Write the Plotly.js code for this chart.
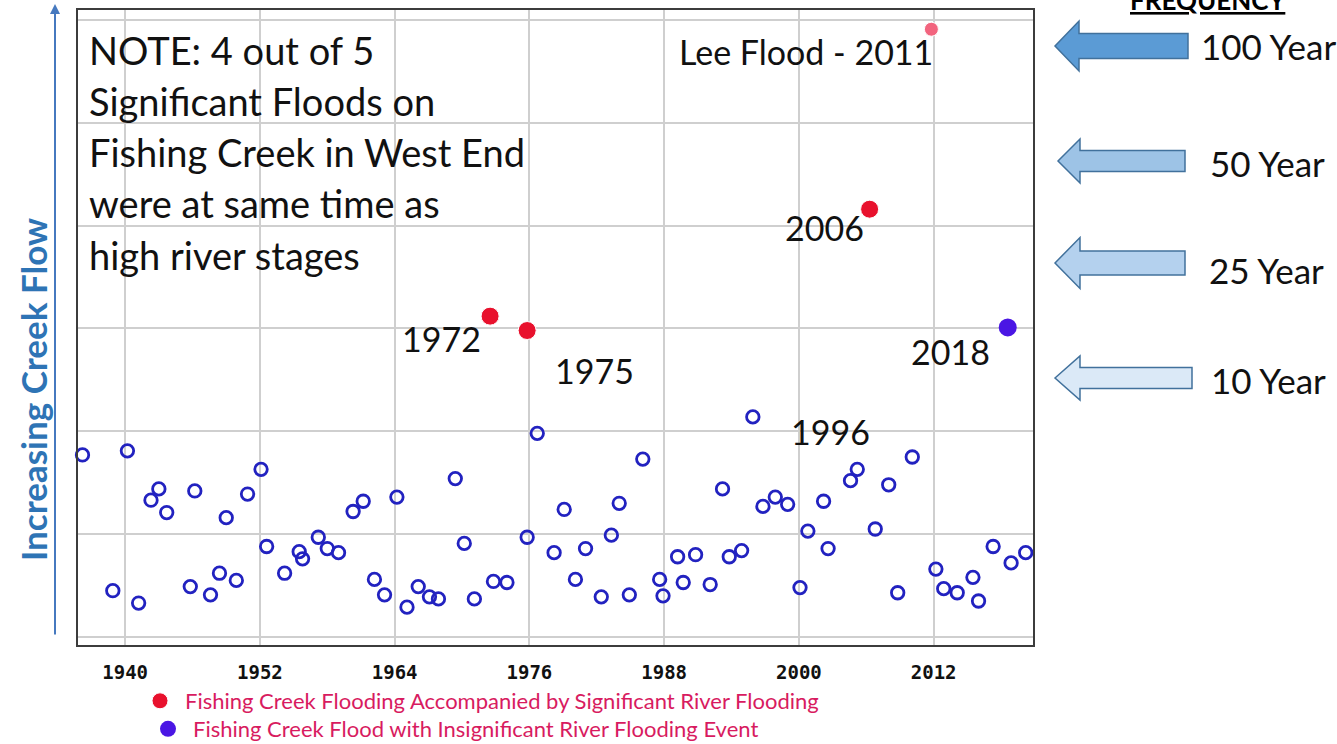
<!DOCTYPE html>
<html>
<head>
<meta charset="utf-8">
<script src="https://cdn.plot.ly/plotly-3.0.1.min.js"></script>
<style>
  html, body { margin: 0; padding: 0; background: #ffffff; }
  #chart { width: 1337px; height: 744px; }
</style>
</head>
<body>
<div id="chart"></div>
<script>
// ---- Data ----
// Annual peak flows (relative creek flow units), hollow circles
const peakYear = [1936.2, 1938.9, 1940.2, 1941.2, 1942.3, 1943.0, 1943.7, 1945.8, 1946.2, 1947.6,
  1948.4, 1949.0, 1949.9, 1950.9, 1952.1, 1952.6, 1954.2, 1955.5, 1955.8, 1957.2,
  1958.0, 1959.0, 1960.3, 1961.2, 1962.2, 1963.1, 1964.2, 1965.1, 1966.1, 1967.1,
  1967.9, 1969.4, 1970.2, 1971.1, 1972.8, 1974.0, 1975.8, 1976.7, 1978.2, 1979.1,
  1980.1, 1981.0, 1982.4, 1983.3, 1984.0, 1984.9, 1986.1, 1987.6, 1987.9, 1989.2,
  1989.7, 1990.8, 1992.1, 1993.2, 1993.8, 1994.9, 1995.9, 1996.8, 1997.9, 1999.0,
  2000.1, 2000.8, 2002.2, 2002.6, 2004.6, 2005.2, 2006.8, 2008.0, 2008.8, 2010.1,
  2012.2, 2012.9, 2014.1, 2015.5, 2016.0, 2017.3, 2018.9, 2020.2];
const peakFlow = [1.77, 0.45, 1.81, 0.33, 1.33, 1.44, 1.21, 0.49, 1.42, 0.41,
  0.62, 1.16, 0.55, 1.39, 1.63, 0.88, 0.62, 0.83, 0.76, 0.97,
  0.86, 0.82, 1.22, 1.32, 0.56, 0.41, 1.36, 0.29, 0.49, 0.39,
  0.37, 1.54, 0.91, 0.37, 0.54, 0.53, 0.97, 1.98, 0.82, 1.24,
  0.56, 0.86, 0.39, 0.99, 1.30, 0.41, 1.73, 0.56, 0.40, 0.78,
  0.53, 0.80, 0.51, 1.44, 0.78, 0.84, 2.14, 1.27, 1.36, 1.29,
  0.48, 1.03, 1.32, 0.86, 1.52, 1.63, 1.05, 1.48, 0.43, 1.75,
  0.66, 0.47, 0.43, 0.58, 0.35, 0.88, 0.72, 0.82];

// Significant floods accompanied by significant river flooding
const sigLabel = ['1972', '1975', '2006', 'Lee Flood - 2011'];
const sigYear = [1972.5, 1975.8, 2006.3, 2011.8];
const sigFlow = [3.12, 2.98, 4.16, 5.91];

// Flood with insignificant river flooding event
const insigYear = [2018.6];
const insigFlow = [3.01];

const xTickVals = [1940, 1952, 1964, 1976, 1988, 2000, 2012];
const xTickText = ['1940', '1952', '1964', '1976', '1988', '2000', '2012'];
const yGridVals = [0, 1, 2, 3, 4, 5, 6];

const freqLabels = ['100 Year', '50 Year', '25 Year', '10 Year'];
const noteLines = ['NOTE: 4 out of 5', 'Significant Floods on', 'Fishing Creek in West End',
  'were at same time as', 'high river stages'];
const legendNames = ['Fishing Creek Flooding Accompanied by Significant River Flooding',
  'Fishing Creek Flood with Insignificant River Flooding Event'];

// ---- Layout helpers (pixel -> paper) ----
const L = 78, R = 1033, T = 10, B = 645;
const W = R - L, H = B - T;
const px = v => (v - L) / W;
const py = v => (B - v) / H;

const FONT = 'Lato, "Open Sans", sans-serif';

const traces = [
  {
    x: peakYear, y: peakFlow, type: 'scatter', mode: 'markers',
    name: 'Annual peak', showlegend: false, cliponaxis: false,
    marker: { symbol: 'circle-open', size: 12.5, opacity: 1, color: '#2222c0', line: { width: 2.8, color: '#2222c0' } },
    hoverinfo: 'x+y'
  },
  {
    x: sigYear, y: sigFlow, type: 'scatter', mode: 'markers',
    name: legendNames[0], text: sigLabel, cliponaxis: false, legend: 'legend',
    marker: { size: [18, 18, 18, 14], opacity: 1, color: ['#e8112d', '#e8112d', '#e8112d', '#f2647e'] }
  },
  {
    x: insigYear, y: insigFlow, type: 'scatter', mode: 'markers',
    name: legendNames[1], cliponaxis: false, legend: 'legend2',
    marker: { size: 18, opacity: 1, color: '#4a16e4' }
  }
];

const annotations = [];
// Note text lines
const noteY = [50, 101, 152, 203, 255];
noteLines.forEach((t, i) => annotations.push({
  xref: 'paper', yref: 'paper', x: px(87), y: py(noteY[i]), xanchor: 'left', yanchor: 'middle',
  text: t, showarrow: false, font: { family: FONT, size: 38, color: '#111' }
}));
// Point labels
const ptLabels = [
  ['Lee Flood - 2011', 806, 52, 34],
  ['2006', 824, 228, 34],
  ['1972', 441, 338, 34],
  ['1975', 594, 370, 34],
  ['2018', 950, 351, 34],
  ['1996', 830, 431, 34]
];
ptLabels.forEach(p => annotations.push({
  xref: 'paper', yref: 'paper', x: px(p[1]), y: py(p[2]), xanchor: 'center', yanchor: 'middle',
  text: p[0], showarrow: false, font: { family: FONT, size: p[3], color: '#111' }
}));
// Frequency labels
const freqPos = [[1268, 46], [1267, 163], [1266, 270], [1268, 380]];
freqLabels.forEach((t, i) => annotations.push({
  xref: 'paper', yref: 'paper', x: px(freqPos[i][0]), y: py(freqPos[i][1]), xanchor: 'center', yanchor: 'middle',
  text: t, showarrow: false, font: { family: FONT, size: 35, color: '#111' }
}));
// FREQUENCY header (clipped at top, as in the reference)
annotations.push({
  xref: 'paper', yref: 'paper', x: px(1208), y: py(18), xanchor: 'center', yanchor: 'bottom',
  text: '<b><u>FREQUENCY</u></b>', showarrow: false, font: { family: FONT, size: 26, color: '#000' }
});
// Y axis label with arrow
annotations.push({
  xref: 'paper', yref: 'paper', x: px(33), y: py(390), xanchor: 'center', yanchor: 'middle',
  text: '<b>Increasing Creek Flow</b>', textangle: -90, showarrow: false,
  font: { family: FONT, size: 35, color: '#2e74b5' }
});
annotations.push({
  xref: 'paper', yref: 'paper', x: px(55), y: py(4), text: '', showarrow: true,
  ax: 0, ay: 632, arrowhead: 2, arrowsize: 1, arrowwidth: 2, arrowcolor: '#4679bf'
});

// Block arrows (left pointing)
function arrowPath(tipX, tipY, baseX, rightX, sh, hh) {
  const pts = [[tipX, tipY], [baseX, tipY - hh], [baseX, tipY - sh], [rightX, tipY - sh],
    [rightX, tipY + sh], [baseX, tipY + sh], [baseX, tipY + hh]];
  return 'M' + pts.map(p => px(p[0]).toFixed(5) + ',' + py(p[1]).toFixed(5)).join('L') + 'Z';
}
const arrows = [
  [1055, 46, 1079, 1188, 12.5, 25, '#5b9bd5'],
  [1058, 161, 1080, 1185, 10.5, 22, '#9dc3e6'],
  [1055, 263, 1080, 1185, 12, 25.5, '#b4d1ee'],
  [1055, 378, 1080, 1192, 10.5, 22, '#dbe9f7']
];
const shapes = arrows.map(a => ({
  type: 'path', xref: 'paper', yref: 'paper', path: arrowPath(a[0], a[1], a[2], a[3], a[4], a[5]),
  fillcolor: a[6], line: { color: '#41719c', width: 1.5 }, layer: 'above'
}));

const legendFont = { family: FONT, size: 22, color: '#d81b60' };
const layout = {
  width: 1337, height: 744,
  margin: { l: L, r: 1337 - R, t: T, b: 744 - B, pad: 0, autoexpand: false },
  paper_bgcolor: '#ffffff', plot_bgcolor: '#ffffff',
  showlegend: true,
  legend: {
    x: px(135), y: py(701), xanchor: 'left', yanchor: 'middle',
    font: legendFont, bgcolor: 'rgba(0,0,0,0)', itemwidth: 40
  },
  legend2: {
    x: px(143), y: py(729), xanchor: 'left', yanchor: 'middle',
    font: legendFont, bgcolor: 'rgba(0,0,0,0)', itemwidth: 40
  },
  xaxis: {
    range: [1935.8, 2020.85], tickvals: xTickVals, ticktext: xTickText,
    showgrid: true, gridcolor: '#cfcfcf', gridwidth: 2, zeroline: false,
    showline: true, mirror: true, linecolor: '#3c3c3c', linewidth: 2,
    ticks: '', ticklabelstandoff: 9,
    tickfont: { family: '"DejaVu Sans Mono", monospace', size: 19, color: '#111', weight: 'bold' }
  },
  yaxis: {
    range: [-0.078, 6.097], tickvals: yGridVals, showticklabels: false,
    showgrid: true, gridcolor: '#cfcfcf', gridwidth: 2, zeroline: false,
    showline: true, mirror: true, linecolor: '#3c3c3c', linewidth: 2, ticks: ''
  },
  annotations: annotations,
  shapes: shapes,
  hovermode: 'closest'
};

Plotly.newPlot('chart', traces, layout, { displayModeBar: false, responsive: false });
</script>
</body>
</html>
